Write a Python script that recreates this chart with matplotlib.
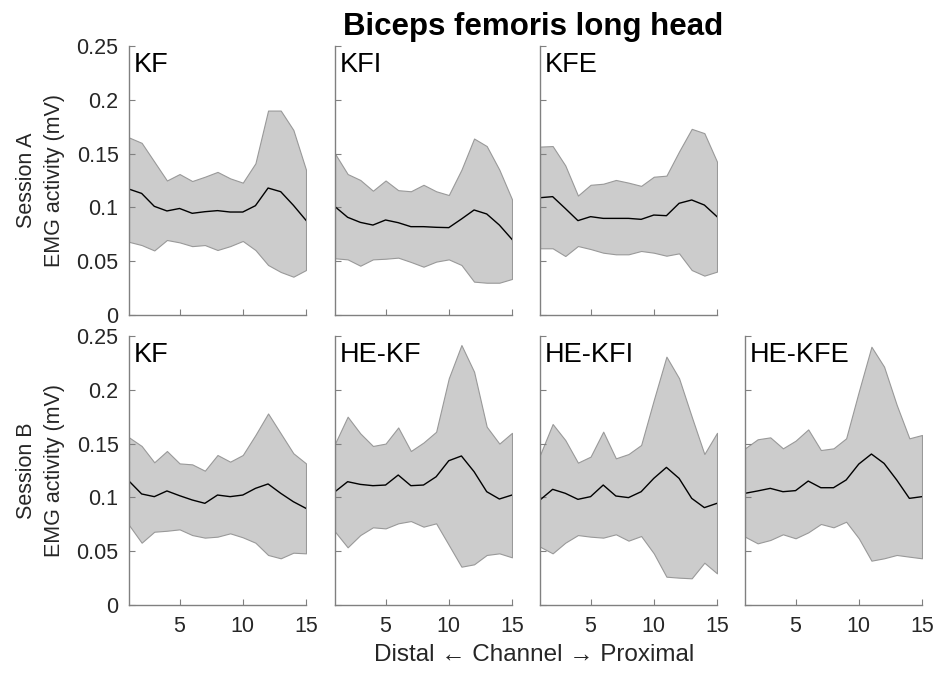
import numpy as np
import matplotlib
matplotlib.use("Agg")
import matplotlib.pyplot as plt

plt.rcParams["font.family"] = ["Liberation Sans", "DejaVu Sans"]

channels = np.arange(1, 16)

# Session A
a_kf_up = [0.165, 0.160, 0.1425, 0.125, 0.131, 0.1245, 0.1285, 0.133, 0.127, 0.123, 0.141, 0.190, 0.190, 0.172, 0.135]
a_kf_mean = [0.117, 0.113, 0.101, 0.0967, 0.099, 0.0945, 0.096, 0.097, 0.0957, 0.0957, 0.1016, 0.118, 0.1146, 0.102, 0.088]
a_kf_low = [0.068, 0.065, 0.060, 0.0697, 0.0675, 0.064, 0.065, 0.0604, 0.064, 0.0688, 0.0604, 0.0465, 0.040, 0.0356, 0.0418]

a_kfi_up = [0.150, 0.131, 0.1255, 0.1155, 0.125, 0.116, 0.115, 0.121, 0.115, 0.1115, 0.135, 0.164, 0.157, 0.135, 0.1075]
a_kfi_mean = [0.1007, 0.0908, 0.0861, 0.0836, 0.0883, 0.0858, 0.0821, 0.0821, 0.0815, 0.0812, 0.0892, 0.0976, 0.0939, 0.0836, 0.0703]
a_kfi_low = [0.0527, 0.0517, 0.0458, 0.0517, 0.0523, 0.0533, 0.0493, 0.0449, 0.0496, 0.0517, 0.0465, 0.031, 0.030, 0.030, 0.0335]

a_kfe_up = [0.1565, 0.157, 0.139, 0.111, 0.121, 0.122, 0.1255, 0.123, 0.120, 0.1285, 0.1295, 0.152, 0.173, 0.169, 0.1425]
a_kfe_mean = [0.109, 0.110, 0.099, 0.0877, 0.0914, 0.0898, 0.0898, 0.0898, 0.0889, 0.0929, 0.0923, 0.1038, 0.1069, 0.1022, 0.0914]
a_kfe_low = [0.062, 0.062, 0.0548, 0.0641, 0.0613, 0.0579, 0.0564, 0.0564, 0.0595, 0.0579, 0.0551, 0.0573, 0.0418, 0.0366, 0.0403]

# Session B
b_kf_up = [0.1558, 0.1478, 0.1326, 0.1431, 0.1316, 0.1307, 0.1248, 0.1394, 0.1332, 0.1394, 0.158, 0.178, 0.1595, 0.141, 0.1316]
b_kf_mean = [0.1152, 0.1032, 0.1007, 0.106, 0.1016, 0.0976, 0.0945, 0.1022, 0.1007, 0.1022, 0.1084, 0.1125, 0.1038, 0.096, 0.0898]
b_kf_low = [0.0743, 0.0579, 0.0681, 0.069, 0.0703, 0.065, 0.0626, 0.0635, 0.0666, 0.0629, 0.0579, 0.0465, 0.0434, 0.0486, 0.048]

b_hekf_up = [0.150, 0.175, 0.1595, 0.1478, 0.150, 0.165, 0.1431, 0.151, 0.161, 0.2107, 0.2416, 0.2168, 0.1657, 0.150, 0.160]
b_hekf_mean = [0.1053, 0.1146, 0.1121, 0.1109, 0.1115, 0.1208, 0.1109, 0.1115, 0.1192, 0.1341, 0.1385, 0.1239, 0.1053, 0.0985, 0.1022]
b_hekf_low = [0.0682, 0.0536, 0.065, 0.0722, 0.0712, 0.0759, 0.078, 0.0728, 0.0759, 0.0558, 0.0356, 0.0378, 0.0465, 0.048, 0.0443]

b_hekfi_up = [0.1394, 0.1682, 0.1533, 0.1323, 0.1379, 0.1611, 0.1363, 0.1403, 0.1487, 0.1905, 0.2308, 0.2107, 0.175, 0.1403, 0.160]
b_hekfi_mean = [0.0976, 0.1075, 0.1038, 0.0982, 0.1007, 0.1115, 0.1013, 0.0998, 0.1053, 0.1177, 0.1279, 0.1177, 0.0991, 0.0905, 0.0945]
b_hekfi_low = [0.0542, 0.048, 0.0579, 0.065, 0.0635, 0.0626, 0.0657, 0.0598, 0.0641, 0.048, 0.0263, 0.0254, 0.0248, 0.0393, 0.0294]

b_hekfe_up = [0.1456, 0.154, 0.1558, 0.1456, 0.1527, 0.1632, 0.144, 0.1456, 0.1549, 0.1983, 0.240, 0.2215, 0.1859, 0.1549, 0.158]
b_hekfe_mean = [0.1038, 0.106, 0.1084, 0.1053, 0.1063, 0.1152, 0.109, 0.109, 0.1162, 0.131, 0.1403, 0.1316, 0.1162, 0.0991, 0.1007]
b_hekfe_low = [0.0635, 0.0573, 0.0604, 0.0657, 0.062, 0.0675, 0.0753, 0.0722, 0.0774, 0.062, 0.0412, 0.0434, 0.0465, 0.0449, 0.0434]

panels = [
    (0, 0, "KF", a_kf_up, a_kf_mean, a_kf_low),
    (0, 1, "KFI", a_kfi_up, a_kfi_mean, a_kfi_low),
    (0, 2, "KFE", a_kfe_up, a_kfe_mean, a_kfe_low),
    (1, 0, "KF", b_kf_up, b_kf_mean, b_kf_low),
    (1, 1, "HE-KF", b_hekf_up, b_hekf_mean, b_hekf_low),
    (1, 2, "HE-KFI", b_hekfi_up, b_hekfi_mean, b_hekfi_low),
    (1, 3, "HE-KFE", b_hekfe_up, b_hekfe_mean, b_hekfe_low),
]

W, H = 937, 674
fig = plt.figure(figsize=(W / 100, H / 100), dpi=100)

col_left = [129, 335, 540, 745]
col_w = 177
row_top = [46, 336]
row_h = 269

txt = "#262626"
spine_c = "#808080"

for r, c, name, up, mean, low in panels:
    ax = fig.add_axes([col_left[c] / W, 1 - (row_top[r] + row_h) / H, col_w / W, row_h / H])
    ax.fill_between(channels, low, up, facecolor="#cccccc", edgecolor="#999999", linewidth=0.8)
    ax.plot(channels, mean, color="black", linewidth=1.0)
    ax.set_xlim(1, 15)
    ax.set_ylim(0, 0.25)
    ax.set_xticks([5, 10, 15])
    ax.set_yticks([0, 0.05, 0.1, 0.15, 0.2, 0.25])
    for s in ["top", "right"]:
        ax.spines[s].set_visible(False)
    for s in ["left", "bottom"]:
        ax.spines[s].set_color(spine_c)
        ax.spines[s].set_linewidth(1.0)
    ax.tick_params(direction="in", length=4, color=spine_c, labelsize=15.5, labelcolor=txt)
    ax.tick_params(axis="y", pad=7.5)
    ax.tick_params(axis="x", pad=8)
    if c == 0:
        ax.set_yticklabels(["0", "0.05", "0.1", "0.15", "0.2", "0.25"])
        sess = "A" if r == 0 else "B"
        ax.set_ylabel(f"Session {sess}\nEMG activity (mV)", fontsize=15.5, color=txt,
                      labelpad=8, linespacing=1.45)
    else:
        ax.set_yticklabels([])
    if r == 0:
        ax.set_xticklabels([])
    ax.text(0.025, 0.978, name, transform=ax.transAxes, fontsize=19.5, color="black", va="top", ha="left")

fig.text(533 / W, 1 - 35 / H, "Biceps femoris long head", fontsize=22.5, fontweight="bold",
         ha="center", va="baseline", color="black")
fig.text(534 / W, 1 - 661 / H, "Distal \u2190 Channel \u2192 Proximal", fontsize=17.5,
         ha="center", va="baseline", color=txt)

fig.savefig("out.png", dpi=100)
